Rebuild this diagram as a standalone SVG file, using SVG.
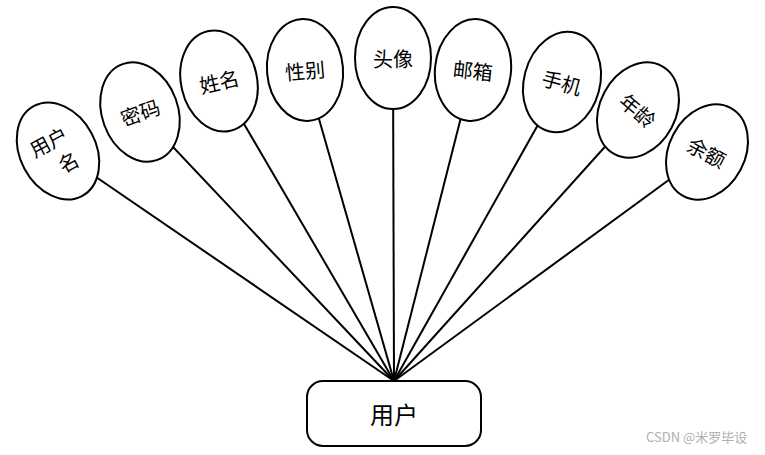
<svg xmlns="http://www.w3.org/2000/svg" width="765" height="455" viewBox="0 0 765 455">
<style>
.e{fill:#fff;stroke:#000;stroke-width:2}
.t{font-family:"Noto Sans CJK SC","Liberation Sans",sans-serif;font-size:20px;fill:#000;text-anchor:middle;dominant-baseline:central}
.c line{stroke:#000;stroke-width:2}
</style>
<rect width="765" height="455" fill="#fff"/>
<g class="c" id="connectors">
<line x1="58" y1="151" x2="394" y2="381"/>
<line x1="140" y1="112" x2="394" y2="381"/>
<line x1="219" y1="81" x2="394" y2="381"/>
<line x1="305" y1="70" x2="394" y2="381"/>
<line x1="393" y1="58" x2="394" y2="381"/>
<line x1="473" y1="70" x2="394" y2="381"/>
<line x1="562" y1="82" x2="394" y2="381"/>
<line x1="638" y1="110" x2="394" y2="381"/>
<line x1="707" y1="152" x2="394" y2="381"/>
</g>
<g id="n1" transform="translate(58,151) rotate(-28)"><ellipse class="e" rx="38" ry="51"/><text class="t" x="-4" y="-13">用户</text><text class="t" x="4" y="14">名</text></g>
<g id="n2" transform="translate(140,112) rotate(-20)"><ellipse class="e" rx="38" ry="51"/><text class="t" x="0" y="0">密码</text></g>
<g id="n3" transform="translate(219,81) rotate(-13)"><ellipse class="e" rx="38" ry="51"/><text class="t" x="0" y="0">姓名</text></g>
<g id="n4" transform="translate(305,70) rotate(-5)"><ellipse class="e" rx="38" ry="51"/><text class="t" x="0" y="0">性别</text></g>
<g id="n5" transform="translate(393,58)"><ellipse class="e" rx="38" ry="51"/><text class="t" x="0" y="0">头像</text></g>
<g id="n6" transform="translate(473,70) rotate(6)"><ellipse class="e" rx="38" ry="51"/><text class="t" x="0" y="0">邮箱</text></g>
<g id="n7" transform="translate(562,82) rotate(15)"><ellipse class="e" rx="38" ry="51"/><text class="t" x="0" y="0">手机</text></g>
<g id="n8" transform="translate(638,110) rotate(28)"><ellipse class="e" rx="38" ry="50"/><text class="t" x="0" y="0" transform="rotate(12)">年龄</text></g>
<g id="n9" transform="translate(707,152) rotate(28)"><ellipse class="e" rx="38" ry="50"/><text class="t" x="0" y="0">余额</text></g>
<g id="user"><rect x="307" y="381" width="174" height="65" rx="16" class="e"/><text class="t" x="394" y="413" style="font-size:24px">用户</text></g>
<text x="646" y="442" style="font-family:'Noto Sans CJK SC','Liberation Sans',sans-serif;font-size:13px;fill:#b0b0b0">CSDN @米罗毕设</text>
</svg>
